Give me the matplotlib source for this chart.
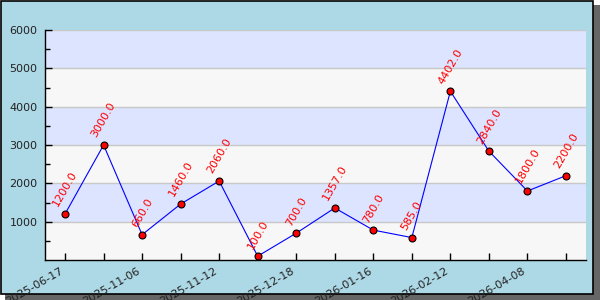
import matplotlib
matplotlib.use("Agg")
import matplotlib.pyplot as plt
from matplotlib.patches import Rectangle

values = [1200, 3000, 660, 1460, 2060, 100, 700, 1357, 780, 585, 4402, 2840, 1800, 2200]
tick_labels = ["2025-06-17", "", "2025-11-06", "", "2025-11-12", "", "2025-12-18", "",
               "2026-01-16", "", "2026-02-12", "", "2026-04-08", ""]
y_ticks = [1000, 2000, 3000, 4000, 5000, 6000]

W, H = 600, 300
fig = plt.figure(figsize=(6, 3), dpi=100)
fig.patch.set_alpha(0)

# shadow and background frame
fig.patches.append(Rectangle((5 / W, 0), 595 / W, 295 / H, transform=fig.transFigure,
                             facecolor="#666666", edgecolor="none", zorder=0))
fig.patches.append(Rectangle((0.5 / W, 6 / H), 592.5 / W, 293.5 / H, transform=fig.transFigure,
                             facecolor="#ADD8E6", edgecolor="black", linewidth=1.2, zorder=1))

ax = fig.add_axes([45 / W, 40 / H, 541 / W, 230 / H])
ax.patch.set_alpha(0)
ax.set_zorder(2)

ymax = 6000
for i, lo in enumerate(range(0, ymax, 1000)):
    ax.axhspan(lo, lo + 1000, facecolor="#F7F7F7" if i % 2 == 0 else "#DDE4FF",
               edgecolor="none", zorder=0)
for y in y_ticks:
    ax.axhline(y, color="#C8C8C8", linewidth=1, zorder=0.5)

x = list(range(len(values)))
ax.plot(x, values, color="#0000FF", linewidth=0.8, zorder=2)
ax.plot(x, values, linestyle="none", marker="o", markersize=5,
        markerfacecolor="red", markeredgecolor="black", markeredgewidth=0.8, zorder=3)

for xi, v in zip(x, values):
    ax.annotate(f"{float(v):.1f}", (xi, v), xytext=(0, 4), textcoords="offset points",
                ha="center", va="bottom", rotation=60, color="red", fontsize=8, zorder=4)

ax.set_xlim(-0.52, len(values) - 1 + 0.52)
ax.set_ylim(0, ymax)
ax.set_yticks(y_ticks)
ax.set_yticks(range(500, ymax, 1000), minor=True)
ax.set_xticks(x)
ax.set_xticklabels(tick_labels, rotation=30, ha="right", rotation_mode="default")
ax.tick_params(axis="both", which="major", direction="in", length=5, width=1,
               labelsize=8, labelcolor="#222222", color="black")
ax.tick_params(axis="y", which="minor", direction="in", length=3.5, width=1, color="black")
ax.tick_params(axis="x", pad=4)
ax.tick_params(axis="y", pad=5.5)
for s in ["top", "right"]:
    ax.spines[s].set_visible(False)
for s in ["left", "bottom"]:
    ax.spines[s].set_color("black")
    ax.spines[s].set_linewidth(1)

fig.savefig("out.png", dpi=100)
